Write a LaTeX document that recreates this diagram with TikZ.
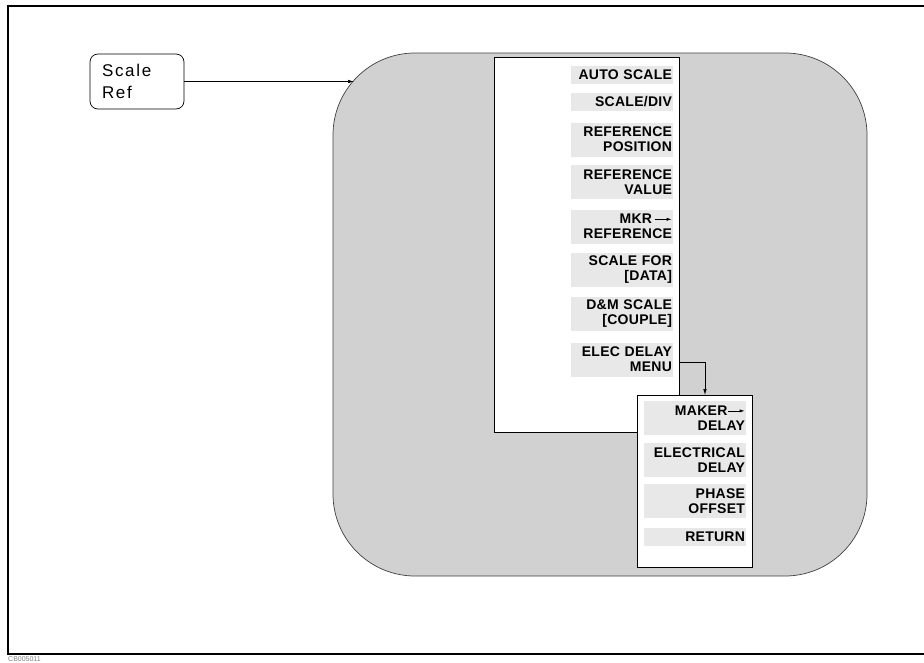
\documentclass[tikz,border=0pt]{standalone}
\usepackage{fontspec}
\setmainfont{Liberation Sans}
\newfontfamily\menufont[LetterSpace=2]{Liberation Sans}
\newfontfamily\hardfont[LetterSpace=10]{Liberation Sans}
\usetikzlibrary{arrows.meta}
\usetikzlibrary{calc}
\usetikzlibrary{positioning}
\usetikzlibrary{backgrounds}
\tikzset{>={Latex[length=6pt,width=3.5pt]}}
\definecolor{dither}{gray}{0.82}
\definecolor{keyfill}{gray}{0.91}
\definecolor{edge}{gray}{0.25}
\newcommand{\softarrow}{\tikz[baseline=-0.6ex]\draw[line width=0.6pt,-{Latex[length=5pt,width=3pt]}] (0pt,0pt) -- (17pt,0pt);}
\tikzstyle{frame} = [line width = 2.6pt]
\tikzstyle{shell} = [%
					fill = dither,
					draw = edge,
					line width = 0.7pt,
					rounded corners = 82pt]
\tikzstyle{panel} = [%
					draw,
					fill = white,
					line width = 0.7pt,
					inner sep = 0pt,
					outer sep = 0pt]
\tikzstyle{softkey} = [%
					fill = keyfill,
					text width = 100pt,
					inner xsep = 1pt,
					inner ysep = 0pt,
					align = right,
					minimum height = 18pt,
					font = \menufont\bfseries\fontsize{14}{15}\selectfont]
\tikzstyle{softkeytwo} = [%
					softkey,
					minimum height = 34pt]
\tikzstyle{conn} = [%
					->,
					line width = 0.6pt]

\begin{document}
\begin{tikzpicture}[x=1pt,y=-1pt]
	\useasboundingbox (0,0) rectangle (924,662);
	
	% Frame
	\draw[frame] (924,6) -- (8,6) -- (8,654) -- (924,654);
	\node[anchor=north west, inner sep=0pt, text=gray, font=\fontsize{7}{7}\selectfont] (tag) at (8,656) {CB005011};
	
	% Shaded area
	\draw[shell] (333,53) rectangle (867,576);
	
	% Coordinates
	\coordinate (tip)  at (354,81.5);
	\coordinate (drop) at (705,395);
	
	% Nodes
	%% Hardkey
	\node[draw, rounded corners=8pt, line width=0.7pt, minimum width=94pt, minimum height=55pt, text width=70pt, inner xsep=12pt, align=left, font=\hardfont\fontsize{17}{21.5}\selectfont] (scaleref) at (137,81.5) {Scale\\Ref};
	%% Menu panels
	\node[panel, minimum width=185pt, minimum height=375pt] (menu) at (586.5,244.5) {};
	\node[panel, minimum width=115pt, minimum height=172pt] (sub) at (694.5,481) {};
	%% Softkeys
	\node[softkey]    (auto)  at (622,75)    {AUTO SCALE};
	\node[softkey]    (div)   at (622,102)   {SCALE/DIV};
	\node[softkeytwo] (rpos)  at (622,139.5) {REFERENCE\\POSITION};
	\node[softkeytwo] (rval)  at (622,182)   {REFERENCE\\VALUE};
	\node[softkeytwo] (mkr)   at (622,226.5) {MKR\,\softarrow\\REFERENCE};
	\node[softkeytwo] (sfor)  at (622,270)   {SCALE FOR\\{[DATA]}};
	\node[softkeytwo] (dam)   at (622,314)   {D\&M SCALE\\{[COUPLE]}};
	\node[softkeytwo] (elec)  at (622,359.5) {ELEC DELAY\\MENU};
	%% Delay softkeys
	\node[softkeytwo] (mdel)  at (695,418)   {MAKER\softarrow\\DELAY};
	\node[softkeytwo] (edel)  at (695,460)   {ELECTRICAL\\DELAY};
	\node[softkeytwo] (phase) at (695,501)   {PHASE\\OFFSET};
	\node[softkey]    (ret)   at (695,537)   {RETURN};
	
	% Connectors
	\draw[conn] (scaleref) -- (tip);
	\draw[conn] ($(menu.east |- elec)+(0,2.5)$) -| (drop);
\end{tikzpicture}
\end{document}
